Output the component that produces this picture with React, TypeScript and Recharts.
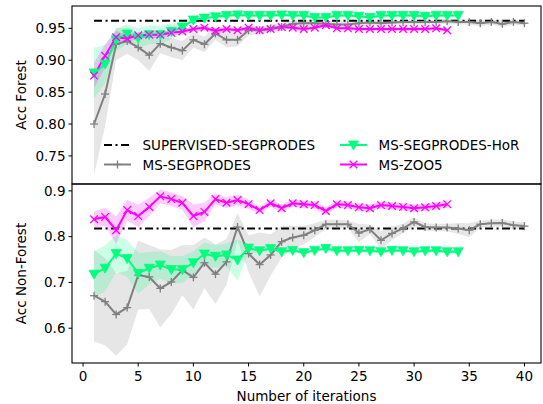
import React from "react";
import { ComposedChart, Line, Area, XAxis, YAxis } from "recharts";

// iterations 1..40
const iterations = [
  1, 2, 3, 4, 5, 6, 7, 8, 9, 10, 11, 12, 13, 14, 15, 16, 17, 18, 19, 20,
  21, 22, 23, 24, 25, 26, 27, 28, 29, 30, 31, 32, 33, 34, 35, 36, 37, 38, 39, 40,
];
const xTicks = [0, 5, 10, 15, 20, 25, 30, 35, 40];
const forestTicks = [0.75, 0.8, 0.85, 0.9, 0.95];
const nonForestTicks = [0.6, 0.7, 0.8, 0.9];

const supervisedForest = 0.962;
const supervisedNonForest = 0.818;

// Acc Forest
const forestSeg = [
  0.8, 0.847, 0.925, 0.93, 0.92, 0.908, 0.926, 0.92, 0.915, 0.932, 0.925, 0.942, 0.932, 0.932, 0.947,
  0.947, 0.95, 0.952, 0.957, 0.958, 0.958, 0.957, 0.956, 0.956, 0.958, 0.959, 0.958, 0.959, 0.96, 0.96,
  0.96, 0.96, 0.961, 0.96, 0.96, 0.958, 0.96, 0.957, 0.96, 0.958,
];
const forestSegStd = [
  0.08, 0.05, 0.025, 0.02, 0.02, 0.025, 0.015, 0.015, 0.015, 0.012, 0.012, 0.01, 0.012, 0.01, 0.008,
  0.006, 0.006, 0.006, 0.006, 0.006, 0.005, 0.005, 0.005, 0.005, 0.005, 0.004, 0.004, 0.004, 0.004, 0.004,
  0.004, 0.004, 0.004, 0.004, 0.004, 0.005, 0.004, 0.005, 0.004, 0.004,
];
const forestHoR = [
  0.88, 0.894, 0.932, 0.941, 0.935, 0.94, 0.94, 0.945, 0.952, 0.963, 0.966, 0.968, 0.97, 0.971, 0.97,
  0.97, 0.97, 0.971, 0.97, 0.97, 0.967, 0.967, 0.97, 0.97, 0.969, 0.967, 0.97, 0.97, 0.97, 0.97,
  0.969, 0.97, 0.97, 0.97,
];
const forestHoRStd = [
  0.04, 0.03, 0.018, 0.015, 0.015, 0.015, 0.014, 0.012, 0.01, 0.007, 0.005, 0.004, 0.004, 0.003, 0.003,
  0.003, 0.003, 0.003, 0.003, 0.003, 0.003, 0.003, 0.003, 0.003, 0.003, 0.003, 0.003, 0.003, 0.003, 0.003,
  0.003, 0.003, 0.003, 0.003,
];
const forestZoo = [
  0.876, 0.907, 0.936, 0.934, 0.939, 0.94, 0.94, 0.943, 0.945, 0.949, 0.951, 0.946, 0.949, 0.947, 0.951,
  0.947, 0.949, 0.952, 0.951, 0.949, 0.951, 0.955, 0.95, 0.95, 0.949, 0.949, 0.949, 0.949, 0.949, 0.949,
  0.949, 0.95, 0.947,
];
const forestZooStd = [
  0.02, 0.018, 0.01, 0.006, 0.005, 0.005, 0.005, 0.004, 0.004, 0.004, 0.004, 0.004, 0.004, 0.003, 0.003,
  0.003, 0.003, 0.003, 0.003, 0.003, 0.003, 0.003, 0.003, 0.003, 0.003, 0.003, 0.003, 0.003, 0.003, 0.003,
  0.003, 0.003, 0.003,
];

// Acc Non-Forest
const nonForestSeg = [
  0.671, 0.658, 0.63, 0.645, 0.716, 0.712, 0.687, 0.701, 0.727, 0.711, 0.743, 0.718, 0.745, 0.821, 0.763,
  0.739, 0.76, 0.789, 0.798, 0.803, 0.814, 0.827, 0.827, 0.827, 0.808, 0.816, 0.792, 0.807, 0.818, 0.832,
  0.821, 0.82, 0.82, 0.818, 0.814, 0.827, 0.829, 0.83, 0.825, 0.823,
];
const nonForestSegStd = [
  0.1, 0.095, 0.09, 0.08, 0.075, 0.07, 0.085, 0.07, 0.055, 0.07, 0.055, 0.065, 0.05, 0.03, 0.04,
  0.07, 0.045, 0.035, 0.025, 0.02, 0.015, 0.01, 0.01, 0.008, 0.02, 0.01, 0.02, 0.015, 0.01, 0.01,
  0.008, 0.008, 0.008, 0.012, 0.015, 0.008, 0.008, 0.008, 0.008, 0.008,
];
const nonForestHoR = [
  0.718, 0.731, 0.763, 0.752, 0.72, 0.731, 0.738, 0.728, 0.728, 0.743, 0.762, 0.757, 0.76, 0.749, 0.775,
  0.769, 0.774, 0.767, 0.77, 0.765, 0.77, 0.774, 0.769, 0.769, 0.77, 0.769, 0.767, 0.77, 0.769, 0.767,
  0.769, 0.769, 0.767, 0.767,
];
const nonForestHoRStd = [
  0.05, 0.05, 0.04, 0.04, 0.045, 0.035, 0.03, 0.03, 0.03, 0.025, 0.025, 0.025, 0.025, 0.045, 0.01,
  0.005, 0.004, 0.004, 0.004, 0.004, 0.004, 0.004, 0.004, 0.004, 0.004, 0.004, 0.004, 0.004, 0.004, 0.004,
  0.004, 0.004, 0.004, 0.004,
];
const nonForestZoo = [
  0.838, 0.843, 0.814, 0.858, 0.845, 0.865, 0.888, 0.882, 0.874, 0.845, 0.854, 0.882, 0.874, 0.88, 0.871,
  0.858, 0.873, 0.862, 0.873, 0.871, 0.869, 0.856, 0.871, 0.869, 0.864, 0.862, 0.869, 0.867, 0.865, 0.862,
  0.864, 0.867, 0.871,
];
const nonForestZooStd = [
  0.017, 0.02, 0.03, 0.022, 0.025, 0.02, 0.015, 0.015, 0.015, 0.025, 0.02, 0.012, 0.012, 0.012, 0.01,
  0.008, 0.008, 0.008, 0.008, 0.008, 0.008, 0.008, 0.008, 0.008, 0.008, 0.008, 0.008, 0.008, 0.008, 0.008,
  0.008, 0.008, 0.008,
];

const GRAY = "#808080";
const GREEN = "#00ff7f";
const MAGENTA = "#ff00ff";
const FONT = "DejaVu Sans, sans-serif";
const FS = 13.5;

const W = 543;
const PLOT_LEFT = 72;
const PLOT_RIGHT = 541;
const TOP_Y = 6;
const MID_Y = 184;
const BOT_Y = 363;
const X_DOMAIN = [-1, 41.5];

function band(m: number[], s: number[], i: number) {
  return i < m.length ? [m[i] - s[i], m[i] + s[i]] : null;
}

function buildRows(
  seg: number[], segStd: number[], hor: number[], horStd: number[],
  zoo: number[], zooStd: number[], sup: number
) {
  return iterations.map((it, i) => ({
    it,
    sup,
    seg: i < seg.length ? seg[i] : null,
    segBand: band(seg, segStd, i),
    hor: i < hor.length ? hor[i] : null,
    horBand: band(hor, horStd, i),
    zoo: i < zoo.length ? zoo[i] : null,
    zooBand: band(zoo, zooStd, i),
  }));
}

const forestRows = buildRows(forestSeg, forestSegStd, forestHoR, forestHoRStd, forestZoo, forestZooStd, supervisedForest);
const nonForestRows = buildRows(nonForestSeg, nonForestSegStd, nonForestHoR, nonForestHoRStd, nonForestZoo, nonForestZooStd, supervisedNonForest);

function Plus({ cx, cy }: { cx: number; cy: number }) {
  return (
    <g stroke={GRAY} strokeWidth={1.3}>
      <line x1={cx - 4} y1={cy} x2={cx + 4} y2={cy} />
      <line x1={cx} y1={cy - 4} x2={cx} y2={cy + 4} />
    </g>
  );
}
function Tri({ cx, cy }: { cx: number; cy: number }) {
  return <polygon points={`${cx - 5},${cy - 4} ${cx + 5},${cy - 4} ${cx},${cy + 5}`} fill={GREEN} stroke={GREEN} strokeWidth={0.8} />;
}
function Cross({ cx, cy }: { cx: number; cy: number }) {
  return (
    <g stroke={MAGENTA} strokeWidth={1.3}>
      <line x1={cx - 3.8} y1={cy - 3.8} x2={cx + 3.8} y2={cy + 3.8} />
      <line x1={cx - 3.8} y1={cy + 3.8} x2={cx + 3.8} y2={cy - 3.8} />
    </g>
  );
}

function dotOf(Mark: any) {
  return (p: any) => {
    if (p.value == null || p.cx == null || p.cy == null) return <g key={`e${p.index}`} />;
    return (
      <g key={`d${p.index}`}>
        <Mark cx={p.cx} cy={p.cy} />
      </g>
    );
  };
}

const tickStyle = { fill: "#000", fontSize: FS, fontFamily: FONT };

function Panel({
  rows, height, yDomain, yTicks, digits, showX, top,
}: {
  rows: any[]; height: number; yDomain: number[]; yTicks: number[]; digits: number; showX: boolean; top: number;
}) {
  return (
    <div style={{ position: "absolute", left: 0, top }}>
      <ComposedChart
        width={W}
        height={height}
        data={rows}
        margin={{ top: showX ? 0 : TOP_Y, right: W - PLOT_RIGHT, bottom: 0, left: 0 }}
      >
        <XAxis
          type="number"
          dataKey="it"
          domain={X_DOMAIN}
          ticks={xTicks}
          allowDataOverflow
          hide={!showX}
          height={showX ? height - (BOT_Y - MID_Y) : 0}
          axisLine={false}
          tickLine={{ stroke: "#000" }}
          tickSize={3.5}
          tickMargin={5}
          tick={tickStyle}
          interval={0}
        />
        <YAxis
          type="number"
          domain={yDomain}
          ticks={yTicks}
          allowDataOverflow
          width={PLOT_LEFT}
          axisLine={false}
          tickLine={{ stroke: "#000" }}
          tickSize={3.5}
          tickMargin={3}
          tick={tickStyle}
          interval={0}
          tickFormatter={(v: number) => v.toFixed(digits)}
        />
        <Area dataKey="segBand" stroke="none" fill={GRAY} fillOpacity={0.2} isAnimationActive={false} />
        <Area dataKey="horBand" stroke="none" fill={GREEN} fillOpacity={0.2} isAnimationActive={false} />
        <Area dataKey="zooBand" stroke="none" fill={MAGENTA} fillOpacity={0.2} isAnimationActive={false} />
        <Line dataKey="sup" stroke="#000" strokeWidth={2} strokeDasharray="8 3.5 2 3.5" dot={false} isAnimationActive={false} />
        <Line dataKey="seg" stroke={GRAY} strokeWidth={2} dot={dotOf(Plus)} isAnimationActive={false} />
        <Line dataKey="hor" stroke={GREEN} strokeWidth={2} dot={dotOf(Tri)} isAnimationActive={false} />
        <Line dataKey="zoo" stroke={MAGENTA} strokeWidth={2} dot={dotOf(Cross)} isAnimationActive={false} />
      </ComposedChart>
    </div>
  );
}

const legendItems = [
  { label: "SUPERVISED-SEGPRODES", col: 0, row: 0, color: "#000", dash: "8 3.5 2 3.5", mark: null as any },
  { label: "MS-SEGPRODES", col: 0, row: 1, color: GRAY, dash: undefined, mark: Plus },
  { label: "MS-SEGPRODES-HoR", col: 1, row: 0, color: GREEN, dash: undefined, mark: Tri },
  { label: "MS-ZOO5", col: 1, row: 1, color: MAGENTA, dash: undefined, mark: Cross },
];

function Overlay() {
  const colX = [104, 340];
  const rowY = [145, 164.5];
  return (
    <svg width={W} height={404} style={{ position: "absolute", left: 0, top: 0, pointerEvents: "none" }}>
      <rect x={PLOT_LEFT} y={TOP_Y} width={PLOT_RIGHT - PLOT_LEFT} height={MID_Y - TOP_Y} fill="none" stroke="#000" strokeWidth={1.1} />
      <rect x={PLOT_LEFT} y={MID_Y} width={PLOT_RIGHT - PLOT_LEFT} height={BOT_Y - MID_Y} fill="none" stroke="#000" strokeWidth={1.1} />
      {legendItems.map((d) => {
        const x0 = colX[d.col];
        const y = rowY[d.row];
        const Mark = d.mark;
        return (
          <g key={d.label}>
            <line x1={x0} y1={y} x2={x0 + 27} y2={y} stroke={d.color} strokeWidth={2} strokeDasharray={d.dash} />
            {Mark ? <Mark cx={x0 + 13.5} cy={y} /> : null}
            <text x={x0 + 38.5} y={y} dominantBaseline="central" fontSize={FS} fontFamily={FONT} fill="#000">
              {d.label}
            </text>
          </g>
        );
      })}
      <text x={21} y={(TOP_Y + MID_Y) / 2} transform={`rotate(-90 21 ${(TOP_Y + MID_Y) / 2})`} textAnchor="middle" dominantBaseline="central" fontSize={FS} fontFamily={FONT}>
        Acc Forest
      </text>
      <text x={21} y={(MID_Y + BOT_Y) / 2} transform={`rotate(-90 21 ${(MID_Y + BOT_Y) / 2})`} textAnchor="middle" dominantBaseline="central" fontSize={FS} fontFamily={FONT}>
        Acc Non-Forest
      </text>
      <text x={(PLOT_LEFT + PLOT_RIGHT) / 2} y={396} textAnchor="middle" dominantBaseline="central" fontSize={FS} fontFamily={FONT}>
        Number of iterations
      </text>
    </svg>
  );
}

export default function App() {
  return (
    <div style={{ position: "absolute", left: 0, top: 0, width: W, height: 404, background: "#fff" }}>
      <Panel rows={forestRows} height={MID_Y} yDomain={[0.706, 0.985]} yTicks={forestTicks} digits={2} showX={false} top={0} />
      <Panel rows={nonForestRows} height={404 - MID_Y} yDomain={[0.524, 0.915]} yTicks={nonForestTicks} digits={1} showX={true} top={MID_Y} />
      <Overlay />
    </div>
  );
}
